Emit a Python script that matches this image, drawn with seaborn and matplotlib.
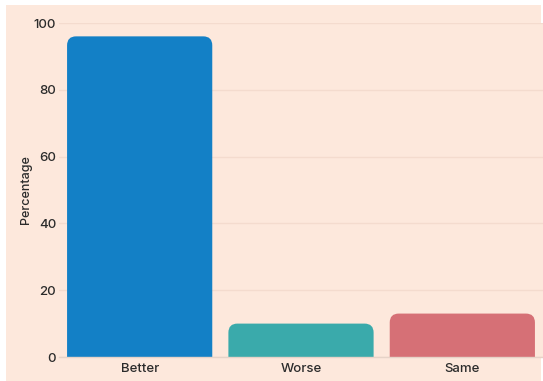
import matplotlib
matplotlib.use("Agg")
import matplotlib.pyplot as plt
from matplotlib.path import Path
from matplotlib.patches import PathPatch, Rectangle
import seaborn as sns
import pandas as pd

categories = ["Better", "Worse", "Same"]
percentages = [96, 10, 13]
bar_colors = ["#1380C6", "#3AAAAB", "#D67076"]

bg = "#FDE8DC"
grid_color = "#F4DBCE"
text_color = "#2B2B2B"

sns.set_theme(style="white")
plt.rcParams["font.family"] = ["Inter", "DejaVu Sans"]

df = pd.DataFrame({"Outcome": categories, "Percentage": percentages})

fig = plt.figure(figsize=(5.43, 3.81), dpi=100, facecolor="white")
fig.patches.append(Rectangle((6 / 543, 0), 1 - 8 / 543, 1 - 5 / 381,
                             transform=fig.transFigure, facecolor=bg,
                             edgecolor="none", zorder=-10))
ax = fig.add_axes([59 / 543, 24 / 381, 484 / 543, 334 / 381])
ax.set_facecolor(bg)

sns.barplot(data=df, x="Outcome", y="Percentage", hue="Outcome",
            palette=bar_colors, width=0.9, legend=False, ax=ax,
            saturation=1, edgecolor="none")

ax.set_xlim(-0.5, 2.5)
ax.set_ylim(0, 100)
ax.set_yticks([0, 20, 40, 60, 80, 100])
ax.yaxis.grid(True, color=grid_color, linewidth=1)
ax.set_axisbelow(True)

# Replace the square bars with bars whose top corners are rounded
fig.canvas.draw()
px_x = ax.transData.transform((1, 0))[0] - ax.transData.transform((0, 0))[0]
px_y = ax.transData.transform((0, 1))[1] - ax.transData.transform((0, 0))[1]
r_px = 9
for bar in list(ax.patches):
    x0, y0 = bar.get_x(), bar.get_y()
    w, h = bar.get_width(), bar.get_height()
    rx, ry = r_px / px_x, r_px / px_y
    ry = min(ry, h / 2)
    x1, y1 = x0 + w, y0 + h
    verts = [(x0, y0), (x0, y1 - ry), (x0, y1), (x0 + rx, y1),
             (x1 - rx, y1), (x1, y1), (x1, y1 - ry), (x1, y0), (x0, y0)]
    codes = [Path.MOVETO, Path.LINETO, Path.CURVE3, Path.CURVE3,
             Path.LINETO, Path.CURVE3, Path.CURVE3, Path.LINETO, Path.CLOSEPOLY]
    ax.add_patch(PathPatch(Path(verts, codes), facecolor=bar.get_facecolor(),
                           edgecolor="none", zorder=2))
    bar.remove()

for side in ["top", "right", "left"]:
    ax.spines[side].set_visible(False)
ax.spines["bottom"].set_color("#E6D3C8")
ax.spines["bottom"].set_linewidth(1)
ax.spines["bottom"].set_zorder(3)

ax.tick_params(axis="both", length=0, labelsize=9.5, colors=text_color)
ax.tick_params(axis="x", pad=4)
ax.tick_params(axis="y", pad=2)
for lbl in ax.get_xticklabels() + ax.get_yticklabels():
    lbl.set_fontweight("medium")
ax.set_xlabel("")
ax.set_ylabel("Percentage", fontsize=9, color=text_color, labelpad=1,
              fontweight="medium")

fig.savefig("out.png", dpi=100, facecolor="white")
